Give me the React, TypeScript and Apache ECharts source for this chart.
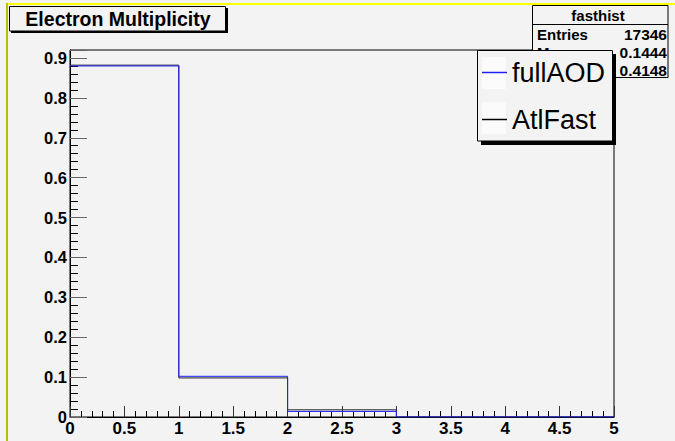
import React, { useEffect, useRef } from "react";
import * as echarts from "echarts";

// Histogram bin edges (x) and bin contents for each series
const binEdges = [0, 1, 2, 3, 4, 5];
const fullAOD = [0.88, 0.102, 0.014, 0, 0];
const atlFast = [0.882, 0.098, 0.018, 0, 0];
const seriesNames = ["fullAOD", "AtlFast"];

const xTicks = [0, 0.5, 1, 1.5, 2, 2.5, 3, 3.5, 4, 4.5, 5];
const yTicks = [0, 0.1, 0.2, 0.3, 0.4, 0.5, 0.6, 0.7, 0.8, 0.9];

const titleText = "Electron Multiplicity";
const statsTitle = "fasthist";
const statsLabels = ["Entries", "Mean", "RMS"];
const statsValues = ["17346", "0.1444", "0.4148"];

function stepData(values: number[]) {
  const d: number[][] = values.map((v, i) => [binEdges[i], v]);
  d.push([binEdges[binEdges.length - 1], values[values.length - 1]]);
  return d;
}

const FONT = "'Liberation Sans', Arial, Helvetica, sans-serif";
const BG = "#f3f3f3";

export default function App() {
  const ref = useRef<HTMLDivElement>(null);
  useEffect(() => {
    if (!ref.current) return;
    const chart = echarts.init(ref.current, undefined, { renderer: "svg" });
    const tickFmt = (v: number) => {
      const r = Math.round(v * 10);
      if (Math.abs(v * 10 - r) > 1e-6) return "";
      if (r === 0) return "0";
      return (r / 10).toString();
    };
    const labelStyle = {
      fontFamily: FONT,
      fontWeight: "bold" as const,
      color: "#000",
    };
    const statsRows: any[] = [];
    statsLabels.forEach((lab, i) => {
      const y = 34 + i * 18;
      statsRows.push({
        type: "text",
        z: 10,
        style: { x: 537, y, text: lab, font: `bold 15px ${FONT}`, fill: "#000", textAlign: "left", textVerticalAlign: "middle" },
      });
      statsRows.push({
        type: "text",
        z: 10,
        style: { x: 667, y, text: statsValues[i], font: `bold 15.5px ${FONT}`, fill: "#000", textAlign: "right", textVerticalAlign: "middle" },
      });
    });
    chart.setOption({
      animation: false,
      backgroundColor: BG,
      grid: {
        left: 70,
        right: 61,
        top: 50,
        bottom: 24,
        show: true,
        borderColor: "#000",
        borderWidth: 1,
        backgroundColor: BG,
      },
      xAxis: {
        type: "value",
        min: xTicks[0],
        max: xTicks[xTicks.length - 1],
        interval: 0.5,
        axisLine: { show: true, onZero: false, lineStyle: { color: "#000", width: 1 } },
        axisTick: { show: true, inside: true, length: 11, lineStyle: { color: "#333" } },
        minorTick: { show: true, splitNumber: 5, length: 6, lineStyle: { color: "#000" } },
        splitLine: { show: false },
        axisLabel: { ...labelStyle, fontSize: 17, margin: 3, formatter: (v: number) => (v === 0 ? "0" : String(v)) },
      },
      yAxis: {
        type: "value",
        min: yTicks[0],
        max: 0.92,
        interval: 0.1,
        axisLine: { show: true, onZero: false, lineStyle: { color: "#000", width: 1 } },
        axisTick: { show: true, inside: true, length: 17, lineStyle: { color: "#666" } },
        minorTick: { show: true, splitNumber: 5, length: 8, lineStyle: { color: "#000" } },
        splitLine: { show: false },
        axisLabel: { ...labelStyle, fontSize: 16.5, margin: 3, formatter: tickFmt },
      },
      legend: {
        data: seriesNames,
        orient: "vertical",
        left: 482,
        top: 59,
        padding: 0,
        itemGap: 20,
        itemWidth: 25,
        itemHeight: 1.5,
        icon: "rect",
        z: 20,
        textStyle: { fontFamily: FONT, fontSize: 27, lineHeight: 27, color: "#000" },
      },
      series: [
        {
          name: seriesNames[1],
          type: "line",
          step: "end",
          symbol: "none",
          color: "#000",
          lineStyle: { color: "#222", width: 1 },
          data: stepData(atlFast),
          z: 3,
        },
        {
          name: seriesNames[0],
          type: "line",
          step: "end",
          symbol: "none",
          color: "#2020ff",
          lineStyle: { color: "#2020ff", width: 1 },
          data: stepData(fullAOD),
          z: 4,
        },
      ],
      graphic: [
        // canvas border
        { type: "rect", z: 10, shape: { x: 6, y: 3, width: 669, height: 2 }, style: { fill: "#ffff00" } },
        { type: "rect", z: 10, shape: { x: 6, y: 3, width: 2, height: 438 }, style: { fill: "#bcbc00" } },
        // title box
        { type: "rect", z: 10, shape: { x: 11, y: 8, width: 217, height: 25 }, style: { fill: "#000" } },
        { type: "rect", z: 10, shape: { x: 9.5, y: 6.5, width: 216, height: 24.5 }, style: { fill: BG, stroke: "#000", lineWidth: 1 } },
        {
          type: "text",
          z: 10,
          style: { x: 118, y: 19, text: titleText, font: `bold 19.5px ${FONT}`, fill: "#000", textAlign: "center", textVerticalAlign: "middle" },
        },
        // stats box
        { type: "rect", z: 10, shape: { x: 532.5, y: 5.5, width: 135.5, height: 72 }, style: { fill: BG, stroke: "#000", lineWidth: 1 } },
        { type: "line", z: 10, shape: { x1: 532.5, y1: 24.5, x2: 668, y2: 24.5 }, style: { stroke: "#000", lineWidth: 1 } },
        {
          type: "text",
          z: 10,
          style: { x: 598, y: 15, text: statsTitle, font: `bold 15px ${FONT}`, fill: "#000", textAlign: "center", textVerticalAlign: "middle" },
        },
        ...statsRows,
        // legend box with shadow and icon backgrounds
        { type: "rect", z: 11, shape: { x: 481, y: 54, width: 135, height: 91 }, style: { fill: "#000" } },
        { type: "rect", z: 11, shape: { x: 477.5, y: 50.5, width: 135, height: 90.5 }, style: { fill: BG, stroke: "#000", lineWidth: 1 } },
        { type: "rect", z: 12, shape: { x: 482, y: 57, width: 24, height: 32 }, style: { fill: "#fbfbfb" } },
        { type: "rect", z: 12, shape: { x: 482, y: 102, width: 24, height: 32 }, style: { fill: "#fbfbfb" } },
      ],
    });
    return () => chart.dispose();
  }, []);
  return <div ref={ref} style={{ position: "fixed", left: 0, top: 0, width: 675, height: 441 }} />;
}
